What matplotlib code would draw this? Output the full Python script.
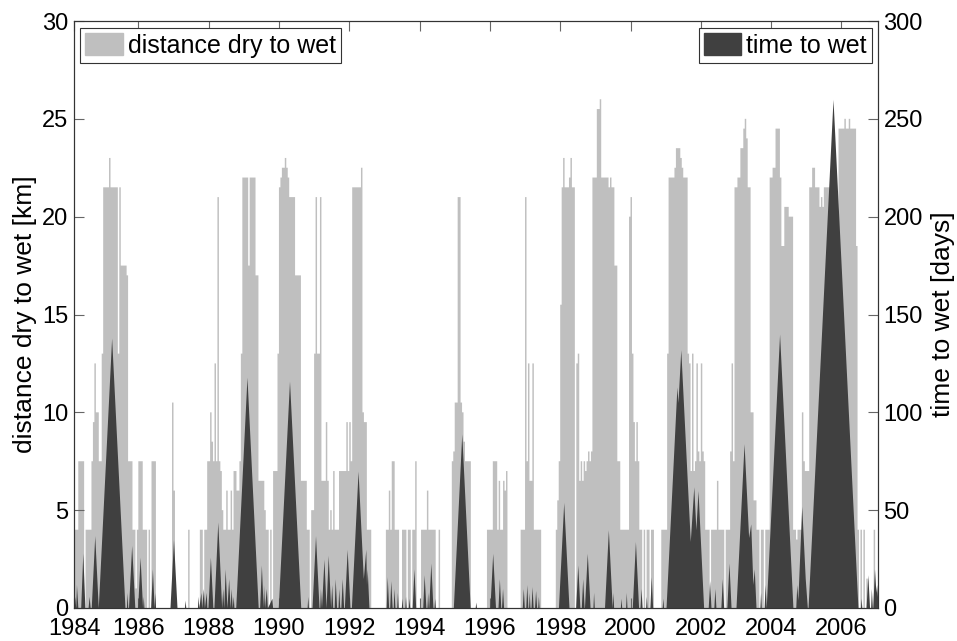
import numpy as np
import matplotlib
matplotlib.use("Agg")
import matplotlib.pyplot as plt
from matplotlib.patches import Patch

plt.rcParams['font.family'] = ['Liberation Sans', 'DejaVu Sans']

# ---- data -------------------------------------------------------------
# distance dry to wet [km], half-month bins starting 1984.0 (24 per year)
light_km = [
    0,0,0,0, 4,4,4,7.5, 7.5,7.5,7.5,0, 4,4,4,4, 7.5,9.5,12.5,10, 10,7.5,7.5,13,            # 1984
    21.5,21.5,21.5,21.5, 23,21.5,21.5,21.5, 21.5,21.5,13,21.5, 17.5,17.5,17.5,17.5, 17,7.5,7.5,7.5, 4,4,1,4,  # 1985
    7.5,7.5,7.5,4, 4,4,0,4, 0,7.5,7.5,7.5, 0,0,0,0, 0,0,0,0, 0,0,0,10.5,                   # 1986
    6,0,0,0, 0,0,0,0, 0,0,4,0, 0,0,0,0, 0,0,4,4, 0,4,4,7.5,                                # 1987
    7.5,10,8.5,7.5, 12.5,7.5,21,7.5, 7,5,4,4, 6,4,4,6, 4,7,7,6, 6,7.5,13,22,               # 1988
    22,22,22,17.5, 22,22,22,22, 17,17,6.5,6.5, 6.5,6.5,5,4, 4,0,4,0, 7,7,7,13,             # 1989
    21.5,22,22.5,22.5, 23,22.5,22,21, 21,21,21,17, 17,17,17,6.5, 6.5,6.5,6.5,4, 4,0,5,5,   # 1990
    13,21,13,13, 21,6.5,6.5,6.5, 9.5,6.5,4,5, 4,7,4,4, 4,7,7,7, 7,7,9.5,7,                 # 1991
    9.5,7.5,21.5,21.5, 21.5,21.5,21.5,21.5, 22.5,10,9.5,9.5, 4,4,4,0, 0,0,0,0, 0,0,0,0,    # 1992
    0,4,4,6, 4,7.5,7.5,4, 4,4,0,0, 4,4,4,0, 4,4,0,4, 4,7.5,0,0,                            # 1993
    0,4,4,4, 4,6,4,4, 4,4,4,0, 0,4,0,0, 0,0,0,0, 0,0,7.5,8,                                # 1994
    10.5,10.5,21,21, 10.5,10,8.5,7.5, 7.5,7.5,7.5,0, 0,0,0,0, 0,0,0,0, 0,0,4,4,           # 1995
    4,4,7.5,7.5, 7.5,4,6.5,4, 4,6.5,6,7, 0,0,0,0, 0,0,0,0, 0,4,4,4,                        # 1996
    21,7.5,12.5,6.5, 6.5,12.5,4,4, 4,4,4,0, 0,0,0,0, 0,0,0,0, 0,4,5.5,7.5,                 # 1997
    15.5,21.5,23,21.5, 21.5,21.5,22,23, 21.5,21.5,0,12.5, 13,6.5,7.5,6.5, 7.5,7,7.5,8, 7.5,8,22,22,  # 1998
    22,25.5,25.5,26, 22,22,22,22, 22,21.5,22,21.5, 21.5,17.5,17.5,7.5, 7.5,4,4,4, 4,4,4,20,  # 1999
    21,13,9.5,7.5, 9.5,7.5,4,4, 0,4,0,4, 4,0,4,4, 0,0,0,0, 0,4,4,4,                        # 2000
    4,13,22,22, 22,22,22.5,23.5, 23.5,23.5,23,22.5, 22,22,22,13, 12.5,7,13,7, 7.5,12.5,8,7.5,  # 2001
    12.5,8,7.5,4, 4,4,0,4, 4,4,4,6.5, 4,4,4,4, 0,4,4,4, 8,12.5,7.5,21.5,                   # 2002
    21.5,22,22,23.5, 23.5,24.5,25,24, 21.5,21.5,10,10, 5.5,5.5,4,4, 0,4,4,0, 4,4,4,22,     # 2003
    22,22.5,22.5,24.5, 24.5,24.5,22,18.5, 18.5,20.5,20.5,20.5, 20,20,20,4, 4,3.5,4,4, 4,10,7.5,7,  # 2004
    7,7,21.5,21.5, 22.5,22.5,21.5,21.5, 21.5,20.5,21,20.5, 21.5,21.5,21.5,21.5, 19,19,19,19, 19,19,24.5,24.5,  # 2005
    24.5,24.5,25,24.5, 24.5,25,24.5,24.5, 24.5,24.5,18.5,4, 0,4,0,4, 0,1.5,0,0, 0,0,4,0,   # 2006
]
light_start_year = 1984
bins_per_year = 24

# time to wet [days], vertices (decimal year, days)
dark_t = [
    1984.17, 1984.19, 1984.22, 1984.24, 1984.28, 1984.36, 1984.42, 1984.48,
    1984.57, 1984.60, 1984.63, 1984.66, 1984.76, 1984.86, 1985.24, 1985.62,
    1985.66, 1985.68, 1985.70, 1985.72, 1985.81, 1985.90, 1985.98, 1986.05,
    1986.12, 1986.14, 1986.16, 1986.35, 1986.40, 1986.45, 1986.47, 1986.49,
    1986.90, 1987.00, 1987.10, 1987.31, 1987.33, 1987.35, 1987.68, 1987.70,
    1987.72, 1987.78, 1987.80, 1987.85, 1987.88, 1987.93, 1987.95, 1987.98,
    1988.05, 1988.12, 1988.15, 1988.26, 1988.37, 1988.40, 1988.43, 1988.47,
    1988.52, 1988.57, 1988.61, 1988.64, 1988.67, 1988.70, 1988.72, 1988.77,
    1989.09, 1989.41, 1989.45, 1989.50, 1989.55, 1989.56, 1989.59, 1989.64,
    1989.67, 1989.80, 1989.82, 1989.98, 1990.30, 1990.62, 1990.80, 1990.82,
    1990.84, 1990.94, 1991.04, 1991.14, 1991.16, 1991.18, 1991.21, 1991.28,
    1991.34, 1991.40, 1991.47, 1991.50, 1991.53, 1991.57, 1991.60, 1991.64,
    1991.68, 1991.70, 1991.73, 1991.76, 1991.80, 1991.84, 1991.86, 1991.94,
    1992.02, 1992.06, 1992.25, 1992.40, 1992.47, 1992.49, 1992.51, 1992.56,
    1993.05, 1993.08, 1993.12, 1993.15, 1993.18, 1993.22, 1993.25, 1993.27,
    1993.30, 1993.35, 1993.37, 1993.39, 1993.48, 1993.50, 1993.52, 1993.58,
    1993.60, 1993.62, 1993.68, 1993.70, 1993.72, 1993.79, 1993.84, 1993.89,
    1994.09, 1994.13, 1994.18, 1994.21, 1994.23, 1994.25, 1994.26, 1994.32,
    1994.38, 1994.41, 1994.43, 1994.45, 1994.96, 1995.20, 1995.44, 1995.58,
    1995.60, 1995.62, 1996.00, 1996.08, 1996.16, 1996.23, 1996.27, 1996.31,
    1996.33, 1996.36, 1996.39, 1996.92, 1996.95, 1996.98, 1997.02, 1997.05,
    1997.08, 1997.10, 1997.12, 1997.14, 1997.17, 1997.20, 1997.23, 1997.27,
    1997.30, 1997.33, 1997.36, 1997.38, 1997.40, 1997.95, 1998.10, 1998.25,
    1998.44, 1998.50, 1998.56, 1998.60, 1998.64, 1998.68, 1998.69, 1998.77,
    1998.85, 1998.93, 1998.95, 1998.97, 1999.26, 1999.37, 1999.48, 1999.50,
    1999.52, 1999.71, 1999.73, 1999.75, 1999.86, 1999.88, 1999.90, 2000.05,
    2000.14, 2000.23, 2000.27, 2000.30, 2000.33, 2000.43, 2000.45, 2000.47,
    2000.55, 2000.59, 2000.63, 2000.90, 2000.92, 2000.94, 2001.01, 2001.32,
    2001.35, 2001.43, 2001.70, 2001.80, 2001.86, 2001.92, 2002.08, 2002.21,
    2002.25, 2002.29, 2002.37, 2002.40, 2002.43, 2002.57, 2002.61, 2002.65,
    2002.74, 2002.80, 2002.86, 2003.00, 2003.23, 2003.36, 2003.42, 2003.48,
    2003.52, 2003.57, 2003.68, 2003.70, 2003.72, 2003.80, 2003.83, 2003.86,
    2004.24, 2004.62, 2004.70, 2004.73, 2004.76, 2004.87, 2004.97, 2004.99,
    2005.03, 2005.05, 2005.76, 2006.47, 2006.54, 2006.56, 2006.58, 2006.70,
    2006.75, 2006.80, 2006.83, 2006.85, 2006.88, 2006.89, 2006.94, 2006.98,
    2007.00, 2007.05,
]
dark_days = [
    0, 6, 0, 12, 0, 0, 28, 0,
    0, 6, 0, 0, 37, 0, 138, 0,
    0, 8, 0, 0, 32, 0, 0, 26,
    0, 6, 0, 0, 20, 0, 8, 0,
    0, 35, 0, 0, 4, 0, 0, 6,
    0, 8, 0, 10, 0, 8, 0, 0,
    26, 0, 0, 44, 0, 10, 0, 20,
    0, 15, 0, 10, 0, 6, 0, 0,
    118, 0, 0, 22, 0, 12, 0, 10,
    0, 5, 0, 0, 116, 0, 0, 6,
    0, 0, 37, 0, 0, 10, 0, 25,
    0, 27, 0, 12, 0, 0, 15, 0,
    0, 10, 0, 0, 15, 0, 0, 30,
    0, 0, 70, 15, 30, 12, 20, 0,
    0, 16, 0, 0, 14, 0, 0, 10,
    0, 0, 8, 0, 0, 5, 0, 0,
    6, 0, 0, 5, 0, 0, 20, 0,
    0, 17, 0, 0, 8, 0, 0, 23,
    0, 0, 5, 0, 0, 89, 0, 0,
    3, 0, 0, 28, 0, 0, 15, 0,
    0, 10, 0, 0, 10, 0, 0, 12,
    0, 0, 8, 0, 0, 11, 0, 0,
    9, 0, 0, 6, 0, 0, 54, 0,
    0, 22, 0, 0, 15, 0, 0, 28,
    0, 0, 8, 0, 0, 40, 0, 8,
    0, 0, 5, 0, 0, 8, 0, 0,
    34, 0, 0, 10, 0, 0, 6, 0,
    0, 16, 0, 0, 5, 0, 0, 113,
    105, 132, 34, 62, 40, 60, 0, 0,
    14, 0, 0, 10, 0, 0, 15, 0,
    0, 23, 0, 0, 84, 36, 43, 12,
    20, 0, 0, 8, 0, 0, 12, 0,
    140, 0, 0, 12, 4, 52, 15, 10,
    0, 0, 260, 0, 0, 5, 0, 0,
    17, 0, 0, 10, 0, 0, 20, 8,
    12, 0,
]

x_tick_years = [1986, 1988, 1990, 1992, 1994, 1996, 1998, 2000, 2002, 2004, 2006]
left_ticks = [0, 5, 10, 15, 20, 25, 30]
right_ticks = [0, 50, 100, 150, 200, 250, 300]

# ---- style ------------------------------------------------------------
light_color = '#bfbfbf'
dark_color = '#404040'
x_min, x_max = 1984.17, 2007.04
fs_tick = 17
fs_label = 19
fs_leg = 18

fig = plt.figure(figsize=(9.57, 6.41), dpi=100)
ax = fig.add_axes([74/957, 33/641, 804/957, 587/641])
ax2 = ax.twinx()

edges = light_start_year + np.arange(len(light_km) + 1) / bins_per_year
ax.stairs(light_km, edges, fill=True, color=light_color, linewidth=0)
ax2.fill_between(dark_t, dark_days, 0, color=dark_color, linewidth=0)

ax.set_xlim(x_min, x_max)
ax.set_ylim(0, 30)
ax2.set_ylim(0, 300)

ax.set_xticks([x_min] + x_tick_years)
ax.set_xticklabels(['1984'] + [str(y) for y in x_tick_years])
ax.set_yticks(left_ticks)
ax2.set_yticks(right_ticks)

for a in (ax, ax2):
    a.tick_params(direction='in', length=7, width=0.8, labelsize=fs_tick,
                  top=True, color='#666666')
    for s in a.spines.values():
        s.set_linewidth(0.8)
        s.set_color('#333333')
ax.tick_params(axis='x', pad=7)
ax.tick_params(axis='y', pad=4)
ax2.tick_params(axis='y', pad=4)

ax.set_ylabel('distance dry to wet [km]', fontsize=fs_label, labelpad=4)
ax2.set_ylabel('time to wet [days]', fontsize=fs_label, labelpad=6)

leg_kw = dict(fontsize=fs_leg, frameon=True, fancybox=False, shadow=False,
              framealpha=1, edgecolor='#333333', borderpad=0.2,
              handlelength=1.5, handleheight=1.0, handletextpad=0.2,
              borderaxespad=0)
leg1 = ax.legend(handles=[Patch(facecolor=light_color, edgecolor=light_color)],
                 labels=['distance dry to wet'], loc='upper left',
                 bbox_to_anchor=(0.0075, 0.988), **leg_kw)
leg1.get_frame().set_linewidth(0.8)
leg2 = ax2.legend(handles=[Patch(facecolor=dark_color, edgecolor=dark_color)],
                  labels=['time to wet'], loc='upper right',
                  bbox_to_anchor=(0.9925, 0.988), **leg_kw)
leg2.get_frame().set_linewidth(0.8)

fig.savefig('out.png', dpi=100)
